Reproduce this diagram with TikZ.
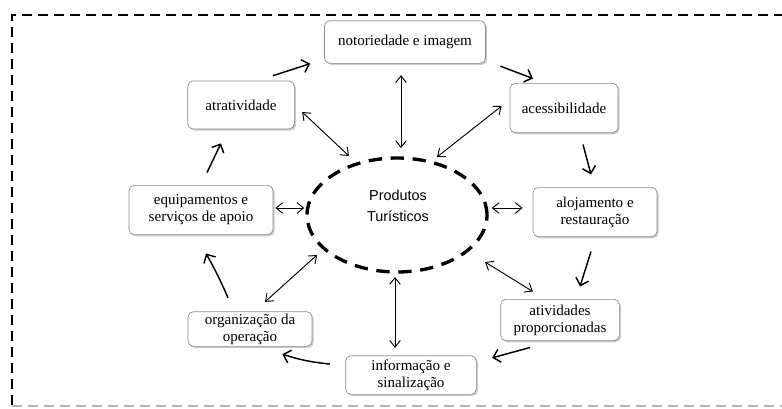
\documentclass[tikz,border=0pt]{standalone}
\usepackage{fontspec}
\setmainfont{Liberation Serif}
\newfontfamily\elfont{Liberation Sans}
\usetikzlibrary{arrows.meta,shapes.geometric,shadows}

\begin{document}
\begin{tikzpicture}[x=0.75pt,y=-0.75pt,
	caixa/.style={draw=black!45,line width=0.5pt,rounded corners=4pt,fill=white,align=center,inner sep=1pt,
		font=\fontsize{11.3}{12.8}\selectfont,
		drop shadow={shadow xshift=1.2pt,shadow yshift=-1.2pt,opacity=0.35,fill=black!60}},
	fluxo/.style={line width=1.1pt,-{Straight Barb[length=5pt,width=10pt]}},
	liga/.style={line width=0.7pt,{Straight Barb[length=5pt,width=8pt]}-{Straight Barb[length=5pt,width=8pt]}}]
				\useasboundingbox (0,0) rectangle (782,408);
				% moldura
				\draw[line width=1.5pt,dash pattern=on 7.5pt off 4.5pt] (800,15) -- (12,15) -- (12,406);
				\draw[line width=1.5pt,dash pattern=on 7.5pt off 4.5pt,black!30] (12,406) -- (800,406);
				% centro
				\node[ellipse,draw,line width=2.5pt,dash pattern=on 10pt off 6.5pt,minimum width=135pt,minimum height=85.5pt,inner sep=0pt] (ell) at (397,215) {};
				\node[align=center,font=\elfont\fontsize{10.8}{15.5}\selectfont] (prod) at (398,206) {Produtos\\Turísticos};
				% caixas
				\node[caixa,minimum width=120.75pt,minimum height=32pt] (notor) at (405,42) {notoriedade e imagem};
				\node[caixa,minimum width=80pt,minimum height=36pt] (atr) at (241,105) {atratividade};
				\node[caixa,minimum width=81pt,minimum height=37pt] (aces) at (564,108) {acessibilidade};
				\node[caixa,minimum width=108pt,minimum height=37pt] (equip) at (201,210) {equipamentos e\\serviços de apoio};
				\node[caixa,minimum width=93pt,minimum height=37pt] (aloj) at (595,212) {alojamento e\\restauração};
				\node[caixa,minimum width=93pt,minimum height=26pt] (org) at (250,329) {organização da\\operação};
				\node[caixa,minimum width=89pt,minimum height=31pt] (ativ) at (560,320) {atividades\\proporcionadas};
				\node[caixa,minimum width=98pt,minimum height=29pt] (info) at (411,375) {informação e\\sinalização};
				% ciclo
				\draw[fluxo] ([shift={(32,-5)}]atr.north) -- ([shift={(-14,0)}]notor.south west);
				\draw[fluxo] ([shift={(14.5,2.5)}]notor.south east) -- ([shift={(-31,-4.5)}]aces.north);
				\draw[fluxo] ([shift={(19,11.5)}]aces.south) -- ([shift={(-4,-12.5)}]aloj.north);
				\draw[fluxo] ([shift={(-4,14.5)}]aloj.south) -- ([shift={(20,-12.5)}]ativ.north);
				\draw[fluxo] ([shift={(-30,6.5)}]ativ.south) -- ([shift={(15.5,2.5)}]info.north east);
				\draw[fluxo] ([shift={(-15.5,-11)}]info.west) to[bend left=6] ([shift={(-30,7.5)}]org.south east);
				\draw[fluxo] ([shift={(-22,-13.5)}]org.north) to[bend right=3] ([shift={(5,18.5)}]equip.south);
				\draw[fluxo] ([shift={(6,-12.5)}]equip.north) -- ([shift={(-20,14)}]atr.south);
				% ligacoes ao centro
				\draw[liga] ([shift={(7.5,7)}]atr.east) -- ([shift={(-48,-59)}]ell.center);
				\draw[liga] ([shift={(-4,11.5)}]notor.south) -- ([shift={(4,-67)}]ell.center);
				\draw[liga] ([shift={(-8,-2)}]aces.west) -- ([shift={(40,-58)}]ell.center);
				\draw[liga] ([shift={(2,-2)}]equip.east) -- ([shift={(-1,-7)}]ell.west);
				\draw[liga] ([shift={(-10,-4)}]aloj.west) -- ([shift={(3,-7)}]ell.east);
				\draw[liga] ([shift={(32.5,-7.5)}]ativ.north west) -- ([shift={(88,47)}]ell.center);
				\draw[liga] ([shift={(-16,-7.5)}]info.north) -- ([shift={(-2,62)}]ell.center);
				\draw[liga] ([shift={(15,-9.5)}]org.north) -- ([shift={(-80,40)}]ell.center);
\end{tikzpicture}
\end{document}
